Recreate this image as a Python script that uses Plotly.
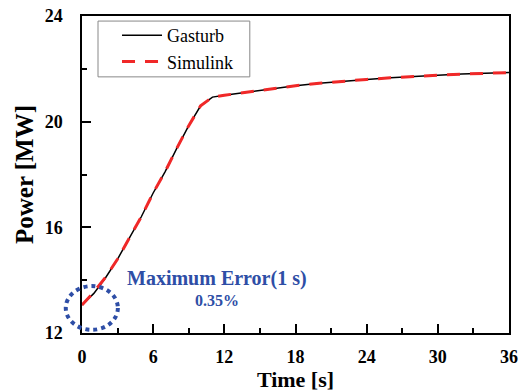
import plotly.graph_objects as go

time_s = [0, 1, 2, 3, 4, 5, 6, 7, 8, 9, 10, 11, 12, 14, 16, 18, 20, 22, 24, 26, 28, 30, 32, 34, 36]
gasturb_mw = [13.06, 13.5, 14.1, 14.8, 15.6, 16.4, 17.3, 18.1, 19.0, 19.85, 20.6, 20.93, 21.0,
              21.12, 21.25, 21.36, 21.45, 21.53, 21.6, 21.66, 21.72, 21.76, 21.8, 21.83, 21.86]
simulink_mw = [13.06, 13.55, 14.12, 14.8, 15.6, 16.4, 17.3, 18.1, 19.0, 19.85, 20.6, 20.93, 21.0,
               21.12, 21.25, 21.36, 21.45, 21.53, 21.6, 21.66, 21.72, 21.76, 21.8, 21.83, 21.86]
x_ticks = [0, 6, 12, 18, 24, 30, 36]
y_ticks = [12, 16, 20, 24]

FONT = "Liberation Serif"
BLUE = "#2E4EA6"

fig = go.Figure()
fig.add_trace(go.Scatter(x=time_s, y=gasturb_mw, mode="lines", name="Gasturb",
                         line=dict(color="black", width=1.5)))
fig.add_trace(go.Scatter(x=time_s, y=simulink_mw, mode="lines", name="Simulink",
                         line=dict(color="#F02828", width=3, dash="13px,10px")))

axis_common = dict(showline=True, linecolor="black", linewidth=1.5, mirror=True,
                   ticks="inside", ticklen=9, tickwidth=1.5, tickcolor="black",
                   showgrid=False, zeroline=False, automargin=False,
                   tickfont=dict(family=FONT, size=18, color="black"))

fig.update_xaxes(range=[0, 36], tickvals=x_ticks, ticktext=[f"<b>{v}</b>" for v in x_ticks],
                 ticklabelstandoff=7,
                 minor=dict(ticks="inside", ticklen=5, tickwidth=1.5, tickcolor="black", dtick=3, tick0=0),
                 title=dict(text="<b>Time [s]</b>", font=dict(family=FONT, size=22, color="black"), standoff=2),
                 **axis_common)
fig.update_yaxes(range=[12, 24], tickvals=y_ticks, ticktext=[f"<b>{v}</b>" for v in y_ticks],
                 ticklabelstandoff=14,
                 minor=dict(ticks="inside", ticklen=5, tickwidth=1.5, tickcolor="black", dtick=2, tick0=12),
                 title=dict(text="<b>Power [MW]</b>", font=dict(family=FONT, size=25, color="black"), standoff=4),
                 **axis_common)

# legend frame
fig.add_shape(type="rect", xref="paper", yref="paper", layer="below",
              x0=0.0375, x1=0.393, y0=0.808, y1=0.984,
              line=dict(color="#888888", width=1), fillcolor="white")

fig.add_shape(type="circle", xref="paper", yref="paper",
              x0=-0.038, x1=0.084, y0=0.01, y1=0.148,
              line=dict(color=BLUE, width=4, dash="dot"))

fig.add_annotation(xref="paper", yref="paper", x=0.316, y=0.171, showarrow=False,
                   xanchor="center", yanchor="middle",
                   text="<b>Maximum Error(1 s)</b>",
                   font=dict(family=FONT, size=20, color=BLUE))
fig.add_annotation(xref="paper", yref="paper", x=0.316, y=0.104, showarrow=False,
                   xanchor="center", yanchor="middle",
                   text="<b>0.35%</b>",
                   font=dict(family=FONT, size=16, color=BLUE))

fig.update_layout(
    width=527, height=392,
    margin=dict(l=82, r=18, t=16, b=59),
    paper_bgcolor="white", plot_bgcolor="white",
    showlegend=True,
    legend=dict(x=0.082, y=0.997, xanchor="left", yanchor="top",
                bgcolor="rgba(0,0,0,0)", borderwidth=0,
                font=dict(family=FONT, size=18, color="black"),
                itemwidth=40, tracegroupgap=0),
)

fig.write_html("out.html")
